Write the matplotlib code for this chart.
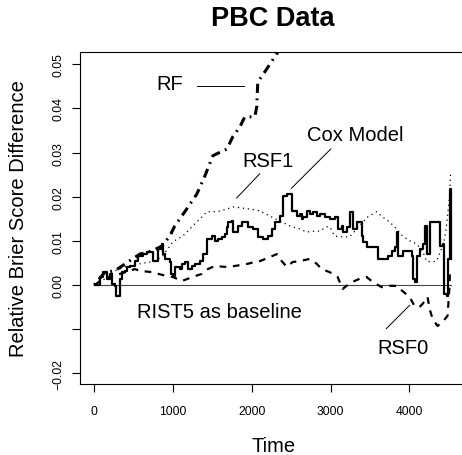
import matplotlib.pyplot as plt

plt.rcParams['font.family'] = ['Liberation Sans', 'DejaVu Sans']

# Cox model (step curve)
cox_t = [10, 72, 110, 161, 199, 224, 262, 270, 300, 326, 351, 389, 415, 453, 516, 554,
         618, 668, 732, 744, 795, 808, 858, 871, 897, 960, 973, 998, 1023, 1087, 1112,
         1150, 1188, 1239, 1277, 1340, 1378, 1429, 1493, 1531, 1569, 1620, 1658, 1683,
         1696, 1747, 1759, 1810, 1822, 1873, 1911, 1949, 2012, 2076, 2139, 2203, 2254,
         2292, 2355, 2393, 2444, 2482, 2507, 2545, 2570, 2608, 2634, 2646, 2697, 2735,
         2773, 2824, 2862, 2925, 2989, 3052, 3090, 3141, 3153, 3204, 3242, 3280, 3331,
         3394, 3407, 3458, 3585, 3597, 3711, 3724, 3775, 3813, 3838, 3851, 3902, 3914,
         3978, 4028, 4041, 4066, 4092, 4130, 4168, 4193, 4219, 4257, 4358, 4383, 4421,
         4434, 4472, 4485, 4510, 4535]
cox_v = [0.0, 0.0018, 0.0029, 0.0014, 0.0025, 0.0002, -0.0002, -0.0025, -0.0025, 0.0014,
         0.0029, 0.0032, 0.0041, 0.0043, 0.0054, 0.0066, 0.0070, 0.0075, 0.0075, 0.0054,
         0.0054, 0.0082, 0.0093, 0.0070, 0.0059, 0.0052, 0.0025, 0.0020, 0.0041, 0.0036,
         0.0048, 0.0052, 0.0036, 0.0043, 0.0048, 0.0054, 0.0070, 0.0104, 0.0111, 0.0100,
         0.0104, 0.0109, 0.0116, 0.0132, 0.0143, 0.0145, 0.0120, 0.0120, 0.0134, 0.0143,
         0.0143, 0.0132, 0.0127, 0.0109, 0.0104, 0.0111, 0.0127, 0.0143, 0.0156, 0.0202,
         0.0206, 0.0206, 0.0168, 0.0168, 0.0156, 0.0161, 0.0150, 0.0154, 0.0168, 0.0161,
         0.0166, 0.0156, 0.0161, 0.0154, 0.0150, 0.0154, 0.0127, 0.0134, 0.0120, 0.0132,
         0.0166, 0.0127, 0.0143, 0.0111, 0.0098, 0.0086, 0.0086, 0.0059, 0.0059, 0.0066,
         0.0077, 0.0086, 0.0120, 0.0066, 0.0066, 0.0077, 0.0077, 0.0066, 0.0014, 0.0007,
         0.0066, 0.0082, 0.0093, 0.0134, 0.0070, 0.0143, 0.0143, 0.0088, 0.0093, -0.0020,
         -0.0025, 0.0059, 0.0218, 0.0059]

# RF
rf_t = [0, 136, 262, 427, 580, 732, 858, 960, 1023, 1150, 1302, 1404, 1506, 1683, 1759,
        1848, 1911, 2038, 2063, 2076, 2165, 2317, 2380]
rf_v = [0.0, 0.0029, 0.0032, 0.0052, 0.0070, 0.0077, 0.0088, 0.0111, 0.0134, 0.0166,
        0.0206, 0.0247, 0.0293, 0.0308, 0.0336, 0.0358, 0.0381, 0.0381, 0.0404, 0.0460,
        0.0483, 0.0524, 0.0540]

# RSF1
rsf1_t = [10, 136, 262, 389, 580, 770, 871, 998, 1125, 1213, 1302, 1378, 1429, 1556, 1683,
          1759, 1975, 2102, 2228, 2355, 2482, 2608, 2697, 2798, 2862, 2951, 2989, 3052,
          3115, 3242, 3369, 3470, 3585, 3660, 3749, 3838, 3914, 4003, 4092, 4168, 4219,
          4282, 4346, 4383, 4421, 4446, 4472, 4510, 4523]
rsf1_v = [0.0, 0.0014, 0.0032, 0.0041, 0.0048, 0.0054, 0.0066, 0.0098, 0.0111, 0.0127,
          0.0143, 0.0156, 0.0166, 0.0166, 0.0172, 0.0177, 0.0172, 0.0168, 0.0156, 0.0145,
          0.0134, 0.0127, 0.0120, 0.0122, 0.0122, 0.0132, 0.0132, 0.0111, 0.0109, 0.0109,
          0.0134, 0.0154, 0.0166, 0.0154, 0.0143, 0.0127, 0.0111, 0.0100, 0.0093, 0.0077,
          0.0054, 0.0052, 0.0054, 0.0070, 0.0088, 0.0104, 0.0134, 0.0200, 0.0252]

# RSF0
rsf0_t = [10, 72, 237, 516, 580, 732, 858, 998, 1112, 1188, 1277, 1366, 1442, 1531, 1658,
          1784, 1949, 2038, 2102, 2228, 2317, 2380, 2444, 2520, 2608, 2735, 2824, 2887,
          2989, 3090, 3153, 3204, 3280, 3369, 3458, 3534, 3648, 3749, 3838, 3914, 4003,
          4066, 4130, 4168, 4231, 4257, 4295, 4358, 4421, 4485, 4497, 4510, 4515]
rsf0_v = [0.0, 0.0009, 0.0020, 0.0036, 0.0032, 0.0029, 0.0023, 0.0018, 0.0009, 0.0014,
          0.0020, 0.0025, 0.0036, 0.0043, 0.0041, 0.0043, 0.0048, 0.0052, 0.0054, 0.0063,
          0.0070, 0.0054, 0.0041, 0.0052, 0.0054, 0.0059, 0.0048, 0.0036, 0.0029, 0.0018,
          -0.0009, -0.0002, 0.0007, 0.0014, 0.0018, 0.0007, -0.0005, -0.0002, -0.0002,
          -0.0014, -0.0027, -0.0048, -0.0050, -0.0043, -0.0027, -0.0054, -0.0077, -0.0093,
          -0.0084, -0.0070, -0.0039, -0.0002, 0.0029]

xticks = [0, 1000, 2000, 3000, 4000]
yticks = [-0.02, -0.01, 0.00, 0.01, 0.02, 0.03, 0.04, 0.05]
ytick_labels = ['\u22120.02', '', '0.00', '0.01', '0.02', '0.03', '0.04', '0.05']

fig = plt.figure(figsize=(4.62, 4.56), dpi=100)
ax = fig.add_axes([80 / 462, 71 / 456, 387 / 462, 332 / 456])

ax.plot([0, 4524], [0, 0], color='#444444', lw=0.8)
ax.plot(rf_t, rf_v, color='black', lw=2.2, linestyle=(0, (0.6, 1.8, 3, 1.8)))
ax.plot(rsf1_t, rsf1_v, color='black', lw=0.9, linestyle=(0, (1, 3)))
ax.plot(rsf0_t, rsf0_v, color='black', lw=1.6, linestyle=(0, (3, 3)))
ax.plot(cox_t, cox_v, color='black', lw=1.6, drawstyle='steps-post')

# labels with pointer lines
fs = 14.5
ax.text(960, 0.0457, 'RF', fontsize=fs, ha='center', va='center')
ax.plot([1305, 1900], [0.0450, 0.0450], color='black', lw=0.7)
ax.text(2203, 0.0283, 'RSF1', fontsize=fs, ha='center', va='center')
ax.plot([1807, 2101], [0.0197, 0.0252], color='black', lw=0.7)
ax.text(3319, 0.0341, 'Cox Model', fontsize=fs, ha='center', va='center')
ax.plot([2503, 3002], [0.0219, 0.0308], color='black', lw=0.7)
ax.text(1594, -0.0060, 'RIST5 as baseline', fontsize=fs, ha='center', va='center')
ax.text(3915, -0.0141, 'RSF0', fontsize=fs, ha='center', va='center')
ax.plot([3708, 4004], [-0.0099, -0.0046], color='black', lw=0.7)

ax.set_xlim(-181, 4732)
ax.set_ylim(-0.02245, 0.0528)
ax.set_xticks(xticks)
ax.set_xticklabels([str(t) for t in xticks])
ax.set_yticks(yticks)
ax.set_yticklabels(ytick_labels, rotation=90, va='center')
ax.tick_params(direction='out', length=6, width=0.8, labelsize=8.7)
ax.tick_params(axis='x', pad=9)
ax.tick_params(axis='y', pad=5)
for s in ax.spines.values():
    s.set_linewidth(0.8)

ax.set_xlabel('Time', fontsize=fs, labelpad=14)
ax.set_ylabel('Relative Brier Score Difference', fontsize=fs, labelpad=18)
fig.text(273 / 462, 1 - 19 / 456, 'PBC Data', fontsize=19.5, fontweight='bold',
         ha='center', va='center')

fig.savefig('out.png', dpi=100)
